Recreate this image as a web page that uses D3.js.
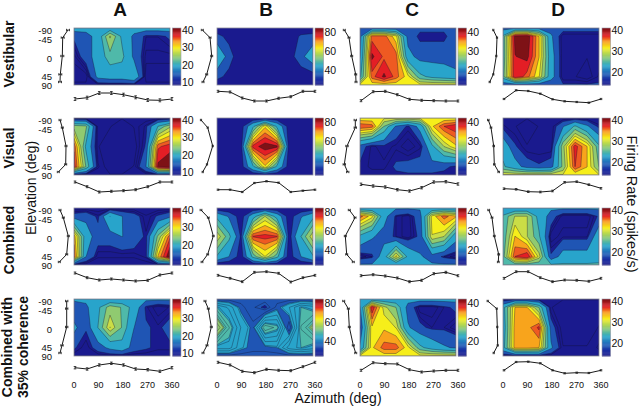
<!DOCTYPE html>
<html><head><meta charset="utf-8">
<script src="https://cdn.jsdelivr.net/npm/d3@7"></script>
<style>html,body{margin:0;padding:0;background:#fff}svg{display:block}text{font-family:"Liberation Sans",Arial,sans-serif;fill:#111}</style>
</head><body><svg id="c" width="640" height="408"></svg>
<script>
const azimuths=[0,45,90,135,180,225,270,315,360];
const elevations=[-90,-45,0,45,90];
const columns=["A","B","C","D"];
const rowNames=["Vestibular","Visual","Combined",["Combined with","35% coherence"]];
const colourLimits=[[8.3,41.5],[25,85],[12.5,42.5],[14,41]];
const colourTicks=[[10,20,30,40],[40,60,80],[20,30,40],[20,30,40]];
const azimuthTicks=[0,90,180,270,360];
const bandBreaks=[.1,.2,.35,.45,.55,.62,.7,.78,.85,.93];
const bandColours=["#1a1a8e","#1f55b4","#28a4cb","#4fb9a9","#90ca70","#cbdd46","#f6ee1a","#f8a41c","#ee5a22","#e31e25","#7e1216"];
const extraLines=[[3,0,2,2],[3,0,2,2],[2,0,2,2],[2,10,2,2]];

const gridA1=[17,17,17,17,17,17,17,17,17, 12,13,17,27,19,14,11,11,12, 10,13,17,22,21,14,10,10,10, 9,9,16,17,17,19,9,9,9, 10,10,10,10,10,10,10,10,10];
const gridA2=[9,9,9,9,9,9,9,9,9, 25,24,9,9,8,9,11,20,26, 36,19,9,8,8,8,12,36,38, 38,23,10,8,8,9,15,40,42, 9,9,9,9,9,9,9,9,9];
const gridA3=[9,9,9,9,9,9,9,9,9, 13,14,11,20,15,13,10,12,14, 33,17,13,13,15,14,11,24,36, 36,15,10,10,10,10,11,32,42, 9,9,9,9,9,9,9,9,9];
const gridA4=[16,16,16,16,16,16,16,16,16, 12,14,19,25,23,18,11,9,10, 16,12,20,29,23,15,12,11,13, 12,10,13,16,18,13,12,11,11, 10,10,10,10,10,10,10,10,10];
const gridB1=[27,27,27,27,27,27,27,27,27, 33,29,27,27,27,27,27,32,33, 44,34,26,26,26,26,28,35,42, 33,29,27,27,27,27,27,27,28, 27,27,27,27,27,27,27,27,27];
const gridB2=[26,26,26,26,26,26,26,26,26, 27,27,28,44,66,44,28,27,27, 27,27,28,78,84,82,28,27,27, 27,27,28,44,66,44,28,27,27, 26,26,26,26,26,26,26,26,26];
const gridB3=[26,26,26,26,26,26,26,26,26, 44,36,28,42,58,42,28,36,44, 62,48,30,76.5,78,76.5,28,46,62, 45,37,28,48,62,48,28,37,45, 26,26,26,26,26,26,26,26,26];
const gridB4=[34,34,34,34,34,34,34,34,34, 46,42,36,33,30,36,40,46,44, 58,48,40,36,50,47,33,48,54, 44,44,38,36,36,37,44,46,44, 34,34,34,34,34,34,34,34,34];
const gridC1=[16,16,16,16,16,16,16,16,16, 17,37,37,32,17,15,15,15,17, 18,41,37.5,37,20,17,17,17,16, 22,37,41,37,32,24,22,21,20, 32,32,32,32,32,32,32,32,32];
const gridC2=[31.5,31.5,31.5,31.5,31.5,31.5,31.5,31.5,31.5, 38,37,26,18,15,20,33,38,40, 17,14,15,14,12,14,22,29,33, 15,14,14,16,17,17,17,16,15, 15,15,15,15,15,15,15,15,15];
const gridC3=[19,19,19,19,19,19,19,19,19, 37,32,20,15,14,17,32,37,34, 22,19,17,15,14,16,31,29,20, 14,15,21,32,22,19,17,15,14, 19,19,19,19,19,19,19,19,19];
const gridC4=[20,20,20,20,20,20,20,20,20, 18,40,30,26,17,14,14,15,16, 15,33,33,31,19,16,15,15,14, 19,33,37,37,32,24,21,19,18, 32,32,32,32,32,32,32,32,32];
const gridD1=[18,18,18,18,18,18,18,18,18, 24,40,41,33,20,15,15,15,15, 24,39,40,33,21,15,15,15,15, 25,39,36,31,21,15,15,14,16, 17,17,17,17,17,17,17,17,17];
const gridD2=[15,15,15,15,15,15,15,15,15, 16,15,14,15,15,19,24,20,16, 22,17,15,15,15,28,38,33,24, 24,21,18,17,18,27,37,33,26, 31,31,31,31,31,31,31,31,31];
const gridD3=[20,20,20,20,20,20,20,20,20, 24,29,29,22,18,15,15,15,17, 24,33,29,24,15,16,16,16,22, 25,37,39,30,17,21,21,21,22, 24,24,24,24,24,24,24,24,24];
const gridD4=[15,15,15,15,15,15,15,15,15, 22,33,33,26,15,14,14,14,14, 21,34,34,37.5,18,14,14,14,15, 22,34,34,33,20,15,15,15,16, 15,15,15,15,15,15,15,15,15];
const grids=[[gridA1,gridB1,gridC1,gridD1],[gridA2,gridB2,gridC2,gridD2],[gridA3,gridB3,gridC3,gridD3],[gridA4,gridB4,gridC4,gridD4]];

const azCurves=[
[[3,4.3,9,9,7.3,4.7,2,1.7,3],[10.7,10,4,1,1,3.7,5.3,10.7,10.7],[1.3,10.3,10.7,7.3,2.7,1.7,1.3,1,1],[3,11.7,11,8.3,2.7,.7,0,-.7,3]],
[[10,5.3,0,.7,1.3,2.3,5.3,10,10],[2.3,2.3,0,9,10.7,9.3,0,1.3,2.3],[7.7,6,5,2.3,1,4.3,10,10.3,8],[3.3,2.7,.3,0,1,9.7,10.3,7.3,3.7]],
[[9,4.3,2,3,2,1,1.7,7,9],[6.7,3.7,.3,9.7,10.3,8.7,0,4.3,6.7],[6.3,7.3,6,4,.3,1.7,8.3,9.7,6.3],[3.7,10.3,10.3,4.3,.3,2,1.7,.7,3.7]],
[[5.3,4,8,9.7,8,4,3.3,1.7,5.3],[10.7,8,1.7,.3,3.7,2.7,2.3,6.3,10.7],[2.7,10.3,9.3,9,3.3,1,2,2.7,2.7],[2.7,11,11.3,9.7,2.7,-.3,.3,0,2.7]]];
const elCurves=[
[[10,4.7,4.3,2.3,2],[1.3,9,10.7,5.7,2],[.3,5,7.7,11.7,12],[6.3,10,9.3,6.3,2.7]],
[[2,4.3,8,7.7,.3],[0,6.7,11.7,6,1.7],[11.3,11.3,3,.3,3.7],[1.3,4,6.7,7.3,11.7]],
[[2,5.3,10.3,8.7,1.3],[0,7.3,12.3,6.7,1],[5.3,11,1.3,2.7,9.3],[1.7,5,7.3,11.7,11.3]],
[[8.7,8.7,8.7,4,2],[4,7.3,10.3,6,2],[-.3,4.3,5.3,9.3,11.7],[.7,9.7,10.3,10.7,6.7]]];
const curveError=[[1.5,1,1,.6],[1,.6,1.2,.8],[1,.9,1,.9],[1.2,1,1,.6]];

const svg=d3.select("#c");
const heatX=[74,217,360,503], heatY=[28,118,208,299], W=96, H=57;
const strokeDark="#1a1a1a";
const bandScale=d3.scaleThreshold().domain(bandBreaks).range(bandColours);
const barColour=d3.scaleLinear().domain([0,.1,.2,.35,.5,.66,.78,.87,1]).range(["#15158a","#1a2ca0","#2060b8","#2aa8c8","#90ca70","#f6ee1a","#f8921c","#e31e25","#7a1014"]);

const defs=svg.append("defs");
grids.forEach((row,r)=>row.forEach((vals,c)=>{
  const x0=heatX[c],y0=heatY[r];
  const id=`clip${r}${c}`;
  defs.append("clipPath").attr("id",id).append("rect").attr("x",x0).attr("y",y0).attr("width",W).attr("height",H);
  const [lo,hi]=colourLimits[c];
  const azS=d3.scaleLinear().domain([0,360]).range([x0,x0+W]);
  const elS=d3.scaleLinear().domain([-1,1]).range([y0,y0+H]);
  const colX=d3.scaleLinear().domain(azimuths.map((a,i)=>i+.5)).range(azimuths.map(azS)).clamp(true);
  const rowY=d3.scaleLinear().domain(elevations.map((e,i)=>i+.5)).range(elevations.map(e=>elS(Math.sin(e*Math.PI/180)))).clamp(true);
  const path=d3.geoPath(d3.geoTransform({point(px,py){this.stream.point(colX(px),rowY(py));}}));
  const vMin=d3.min(vals),vMax=d3.max(vals);
  const breaks=bandBreaks.map(f=>lo+f*(hi-lo));
  const n=extraLines[r][c];
  const top=n>=10?vMax:breaks[0];
  const extra=d3.range(1,n+1).map(i=>vMin+i*(top-vMin)/(n+1)).filter(v=>!breaks.some(b=>Math.abs(b-v)<.4));
  const thr=[0].concat(breaks.filter(b=>b>vMin&&b<vMax),extra).sort(d3.ascending);
  const gen=d3.contours().size([9,5]).thresholds(thr);
  const g=svg.append("g").attr("clip-path",`url(#${id})`);
  g.selectAll("path").data(gen(vals)).join("path")
    .attr("d",d=>path(d))
    .attr("fill",d=>bandScale((d.value+1e-6-lo)/(hi-lo)))
    .attr("stroke",(d,i)=>i?"#10102a":"none").attr("stroke-opacity",.7).attr("stroke-width",.5);
  svg.append("rect").attr("x",x0).attr("y",y0).attr("width",W).attr("height",H).attr("fill","none").attr("stroke","#8a8a9a").attr("stroke-width",.8);

  const barX=x0+W+[2.5,2,2,3][c], barW=8.5;
  const barS=d3.scaleLinear().domain([lo,hi]).range([y0+H,y0]);
  const bar=svg.append("g");
  bar.selectAll("rect").data(d3.range(0,64)).join("rect")
    .attr("x",barX).attr("width",barW)
    .attr("y",i=>barS(lo+(i+1)/64*(hi-lo))).attr("height",(H/64)+.4)
    .attr("fill",i=>barColour((i+.5)/64));
  bar.append("rect").attr("x",barX).attr("y",y0).attr("width",barW).attr("height",H).attr("fill","none").attr("stroke","#9a9aa8").attr("stroke-width",.6);
  svg.append("g").selectAll("text").data(colourTicks[c]).join("text")
    .attr("x",barX+barW+1).attr("y",d=>barS(d)).attr("dy","0.35em").attr("font-size",10.5).text(d=>d);

  const stripX=d3.scaleLinear().domain([0,360]).range([x0+1,x0+98]);
  const stripY=d3.scaleLinear().domain([0,12]).range([y0+H+17,y0+H+5]);
  const eA=curveError[r][c];
  const line=d3.line().x((d,i)=>stripX(azimuths[i])).y(d=>stripY(d));
  const sg=svg.append("g").attr("stroke",strokeDark).attr("fill","none");
  sg.append("path").attr("d",line(azCurves[r][c])).attr("stroke-width",1);
  azCurves[r][c].forEach((v,i)=>{
    const xx=stripX(azimuths[i]);
    sg.append("path").attr("stroke-width",.8).attr("d",`M${xx},${stripY(v+eA)}V${stripY(v-eA)}M${xx-1.3},${stripY(v+eA)}h2.6M${xx-1.3},${stripY(v-eA)}h2.6`);
  });
  const sideX=d3.scaleLinear().domain([0,12]).range([x0-16,x0-4]);
  const sideY=d3.scaleLinear().domain([-1,1]).range([y0+2,y0+54]);
  const sEl=e=>sideY(Math.sin(e*Math.PI/180));
  const lineE=d3.line().x(d=>sideX(d)).y((d,i)=>sEl(elevations[i]));
  sg.append("path").attr("d",lineE(elCurves[r][c])).attr("stroke-width",1);
  elCurves[r][c].forEach((v,i)=>{
    const yy=sEl(elevations[i]);
    sg.append("path").attr("stroke-width",.8).attr("d",`M${sideX(v-eA)},${yy}H${sideX(v+eA)}M${sideX(v-eA)},${yy-1.2}v2.4M${sideX(v+eA)},${yy-1.2}v2.4`);
  });

  if(c===0){
    const labelY=d3.scaleOrdinal().domain(elevations).range([2.7,12,31,49,58]);
    svg.append("g").selectAll("text").data(elevations).join("text")
      .attr("x",52).attr("y",e=>y0+labelY(e)).attr("dy","0.35em").attr("text-anchor","end").attr("font-size",9.5).text(e=>e);
  }
  if(r===3){
    const tickX=d3.scaleLinear().domain([0,360]).range([x0,x0+98]);
    svg.append("g").selectAll("text").data(azimuthTicks).join("text")
      .attr("x",a=>tickX(a)).attr("y",388).attr("text-anchor","middle").attr("font-size",9).text(a=>a);
  }
}));

columns.forEach((t,i)=>svg.append("text").attr("x",[120,266,412,558][i]).attr("y",16).attr("text-anchor","middle").attr("font-size",19).attr("font-weight","bold").text(t));
const rowCy=[54,148,240];
const rot=(x,y,a)=>`translate(${x},${y}) rotate(${a})`;
rowNames.slice(0,3).forEach((t,i)=>svg.append("text").attr("transform",rot(14,rowCy[i],-90)).attr("text-anchor","middle").attr("font-size",14).attr("font-weight","bold").text(t));
rowNames[3].forEach((t,i)=>svg.append("text").attr("transform",rot(i?28:12,347,-90)).attr("text-anchor","middle").attr("font-size",14).attr("font-weight","bold").text(t));
svg.append("text").attr("transform",rot(36,188,-90)).attr("text-anchor","middle").attr("font-size",14).text("Elevation (deg)");
svg.append("text").attr("transform",rot(627,204,90)).attr("text-anchor","middle").attr("font-size",14.5).text("Firing Rate (spikes/s)");
svg.append("text").attr("x",338).attr("y",403).attr("text-anchor","middle").attr("font-size",14).text("Azimuth (deg)");
</script></body></html>
